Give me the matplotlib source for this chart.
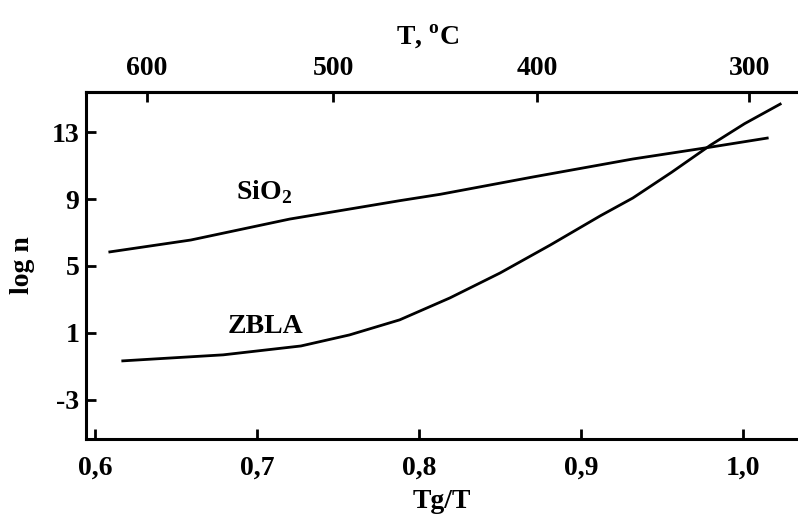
import numpy as np
import matplotlib
matplotlib.use("Agg")
import matplotlib.pyplot as plt

# values
sio2_x = [0.609, 0.659, 0.720, 0.788, 0.813, 0.870, 0.932, 0.980, 1.015]
sio2_y = [5.84, 6.55, 7.80, 8.90, 9.28, 10.31, 11.39, 12.10, 12.64]

zbla_x = [0.617, 0.634, 0.679, 0.727, 0.757, 0.788, 0.819, 0.850, 0.881,
          0.912, 0.932, 0.956, 0.980, 1.001, 1.023]
zbla_y = [-0.67, -0.57, -0.31, 0.22, 0.88, 1.78, 3.09, 4.58, 6.25,
          8.00, 9.06, 10.60, 12.22, 13.50, 14.67]

x_ticks = [0.6, 0.7, 0.8, 0.9, 1.0]
x_labels = ['0,6', '0,7', '0,8', '0,9', '1,0']
y_ticks = [-3, 1, 5, 9, 13]

# top axis: temperature in C at the matching Tg/T positions
temp_c = [600, 500, 400, 300]
temp_pos = [0.632, 0.747, 0.873, 1.004]

plt.rcParams['font.family'] = ['Liberation Serif', 'DejaVu Serif']
plt.rcParams['font.weight'] = 'bold'
plt.rcParams['axes.unicode_minus'] = False
plt.rcParams['mathtext.fontset'] = 'custom'
plt.rcParams['mathtext.rm'] = 'Liberation Serif:bold'
plt.rcParams['mathtext.bf'] = 'Liberation Serif:bold'

fs = 20
fig = plt.figure(figsize=(7.98, 5.2), dpi=100)
ax = fig.add_axes([0.108, 0.156, 0.892, 0.667])

ax.plot(sio2_x, sio2_y, c='k', lw=2.0)
ax.plot(zbla_x, zbla_y, c='k', lw=2.0)

ax.set_xlim(0.5944, 1.034)
ax.set_ylim(-5.33, 15.39)

ax.set_xticks(x_ticks)
ax.set_xticklabels(x_labels)
ax.set_yticks(y_ticks)
ax.tick_params(direction='in', length=7, width=2, labelsize=fs, pad=12)
ax.tick_params(axis='y', pad=5)

for s in ['left', 'bottom', 'top']:
  ax.spines[s].set_linewidth(2.2)
ax.spines['right'].set_visible(False)

ax.set_xlabel('Tg/T', fontsize=fs, fontweight='bold', labelpad=6)
ax.set_ylabel('log n', fontsize=fs, fontweight='bold', labelpad=12)

ax2 = ax.twiny()
ax2.set_xlim(ax.get_xlim())
ax2.set_xticks(temp_pos)
ax2.set_xticklabels([str(t) for t in temp_c])
ax2.tick_params(direction='in', length=7, width=2, labelsize=fs, pad=8)
ax2.spines['right'].set_visible(False)
ax2.spines['top'].set_linewidth(2.2)
ax2.set_xlabel(r'T, $^{\rm o}$C', fontsize=fs, fontweight='bold')
ax2.xaxis.set_label_coords(0.48, 1.14)

ax.text(0.704, 9.4, r'SiO$_2$', fontsize=fs, fontweight='bold', ha='center', va='center')
ax.text(0.705, 1.36, 'ZBLA', fontsize=fs, fontweight='bold', ha='center', va='center')

plt.savefig("out.png", dpi=100)
